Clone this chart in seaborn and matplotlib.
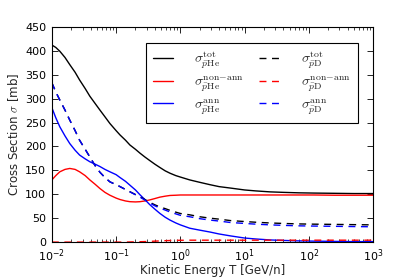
import matplotlib
matplotlib.use('Agg')
import matplotlib.pyplot as plt
import matplotlib.ticker as mticker
import seaborn as sns

# kinetic energy grid [GeV/n]
T = [0.01, 0.0115, 0.0133, 0.016, 0.019, 0.023, 0.027, 0.033, 0.039, 0.047,
     0.056, 0.067, 0.08, 0.1, 0.115, 0.14, 0.164, 0.2, 0.235, 0.28,
     0.33, 0.4, 0.48, 0.58, 0.69, 0.85, 1, 1.4, 2, 2.9,
     4, 6, 10, 15, 25, 40, 70, 120, 250, 500, 1000]

# pbar-He cross sections [mb]
he_tot = [412, 407, 399, 386, 371, 355, 339, 321, 305, 290,
          276, 262, 248, 233, 224, 213, 203, 194, 186, 178,
          171, 163, 156, 149, 144, 139, 136, 130, 125, 120,
          116, 113, 109, 107, 105, 104, 103, 102.5, 102, 101.5, 101.5]
he_non = [130, 139, 147, 152, 154, 152, 147, 139, 130, 121,
          112, 104, 98, 92, 89, 86, 84.5, 84, 84.5, 86,
          88, 91, 94, 96, 97.5, 98, 98.5, 98.5, 98.5, 98.5,
          98.5, 98.5, 98.5, 98.5, 98.5, 98.5, 98.5, 98.5, 98, 98, 98]
he_ann = [281, 260, 241, 222, 206, 192, 182, 174, 168, 163,
          158, 152, 147, 141, 135, 127, 119, 109, 99, 89,
          79, 69, 60, 52, 46, 40, 36, 29, 25, 21,
          17, 13, 8.5, 6.5, 4.5, 3.5, 2.5, 2, 1.5, 1, 1]

# pbar-D cross sections [mb]
d_tot = [333, 314, 297, 276, 255, 233, 213, 194, 178, 160,
         146, 135, 126, 120, 116, 110, 105.3, 99.5, 94.8, 89.1,
         83.5, 78, 73.5, 70, 66.3, 62.6, 59.8, 57, 53, 50,
         48, 45, 43, 41.5, 40, 39, 38, 37.5, 37, 36.5, 36]
d_non = [0, 0, 0, 0, 0, 0, 0, 0, 0, 0,
         0, 0, 0, 0, 0, 0, 0.3, 0.5, 0.8, 1.1,
         1.5, 2, 2.5, 3, 3.3, 3.6, 3.8, 4, 4, 4,
         4, 4, 4, 4, 4, 4, 4, 4, 4, 4, 4]
d_ann = [333, 314, 297, 276, 255, 233, 213, 194, 178, 160,
         146, 135, 126, 120, 116, 110, 105, 99, 94, 88,
         82, 76, 71, 67, 63, 59, 56, 53, 49, 46,
         44, 41, 39, 37.5, 36, 35, 34, 33.5, 33, 32.5, 32]

labels = [r'$\sigma_{\bar{p}\mathrm{He}}^{\mathrm{tot}}$',
          r'$\sigma_{\bar{p}\mathrm{He}}^{\mathrm{non\!-\!ann}}$',
          r'$\sigma_{\bar{p}\mathrm{He}}^{\mathrm{ann}}$',
          r'$\sigma_{\bar{p}\mathrm{D}}^{\mathrm{tot}}$',
          r'$\sigma_{\bar{p}\mathrm{D}}^{\mathrm{non\!-\!ann}}$',
          r'$\sigma_{\bar{p}\mathrm{D}}^{\mathrm{ann}}$']

sns.set_style('ticks')
plt.rcParams['font.family'] = ['DejaVu Sans']
plt.rcParams['mathtext.fontset'] = 'cm'
plt.rcParams['xtick.direction'] = 'in'
plt.rcParams['ytick.direction'] = 'in'

fig = plt.figure(figsize=(4.15, 2.77), dpi=100)
ax = fig.add_axes([0.125, 0.126, 0.774, 0.777])

dash = (0, (5, 4))
series = [(he_tot, 'black', '-'), (he_non, 'red', '-'), (he_ann, 'blue', '-'),
          (d_tot, 'black', dash), (d_non, 'red', dash), (d_ann, 'blue', dash)]
for (vals, col, ls), lab in zip(series, labels):
    sns.lineplot(x=T, y=vals, ax=ax, color=col, linestyle=ls, linewidth=1.0, label=lab)

ax.set_xscale('log')
ax.set_xlim(1e-2, 1e3)
ax.set_ylim(0, 450)
ax.set_yticks(range(0, 451, 50))
ax.xaxis.set_major_locator(mticker.LogLocator(base=10, numticks=10))
ax.xaxis.set_minor_locator(mticker.LogLocator(base=10, subs=range(2, 10), numticks=20))
ax.tick_params(which='both', top=True, right=True, labelsize=8, colors='black')
ax.tick_params(which='major', length=4, width=0.6)
ax.tick_params(which='minor', length=2, width=0.5)
ax.tick_params(axis='y', pad=4)
ax.tick_params(axis='x', pad=4)
for s in ax.spines.values():
    s.set_color('black')
    s.set_linewidth(0.8)

ax.set_xlabel('Kinetic Energy T [GeV/n]', fontsize=8.5, labelpad=0)
ax.set_ylabel(r'Cross Section $\sigma$ [mb]', fontsize=8.5, labelpad=3)

leg = ax.legend(ncol=2, loc='upper right', bbox_to_anchor=(0.953, 0.926), fontsize=10,
                frameon=True, fancybox=False, framealpha=1, edgecolor='black',
                handlelength=1.5, columnspacing=1.1, handletextpad=1.5, labelspacing=0.25,
                borderpad=0.5, borderaxespad=0)
leg.get_frame().set_linewidth(0.8)

fig.savefig('out.png', dpi=100)
